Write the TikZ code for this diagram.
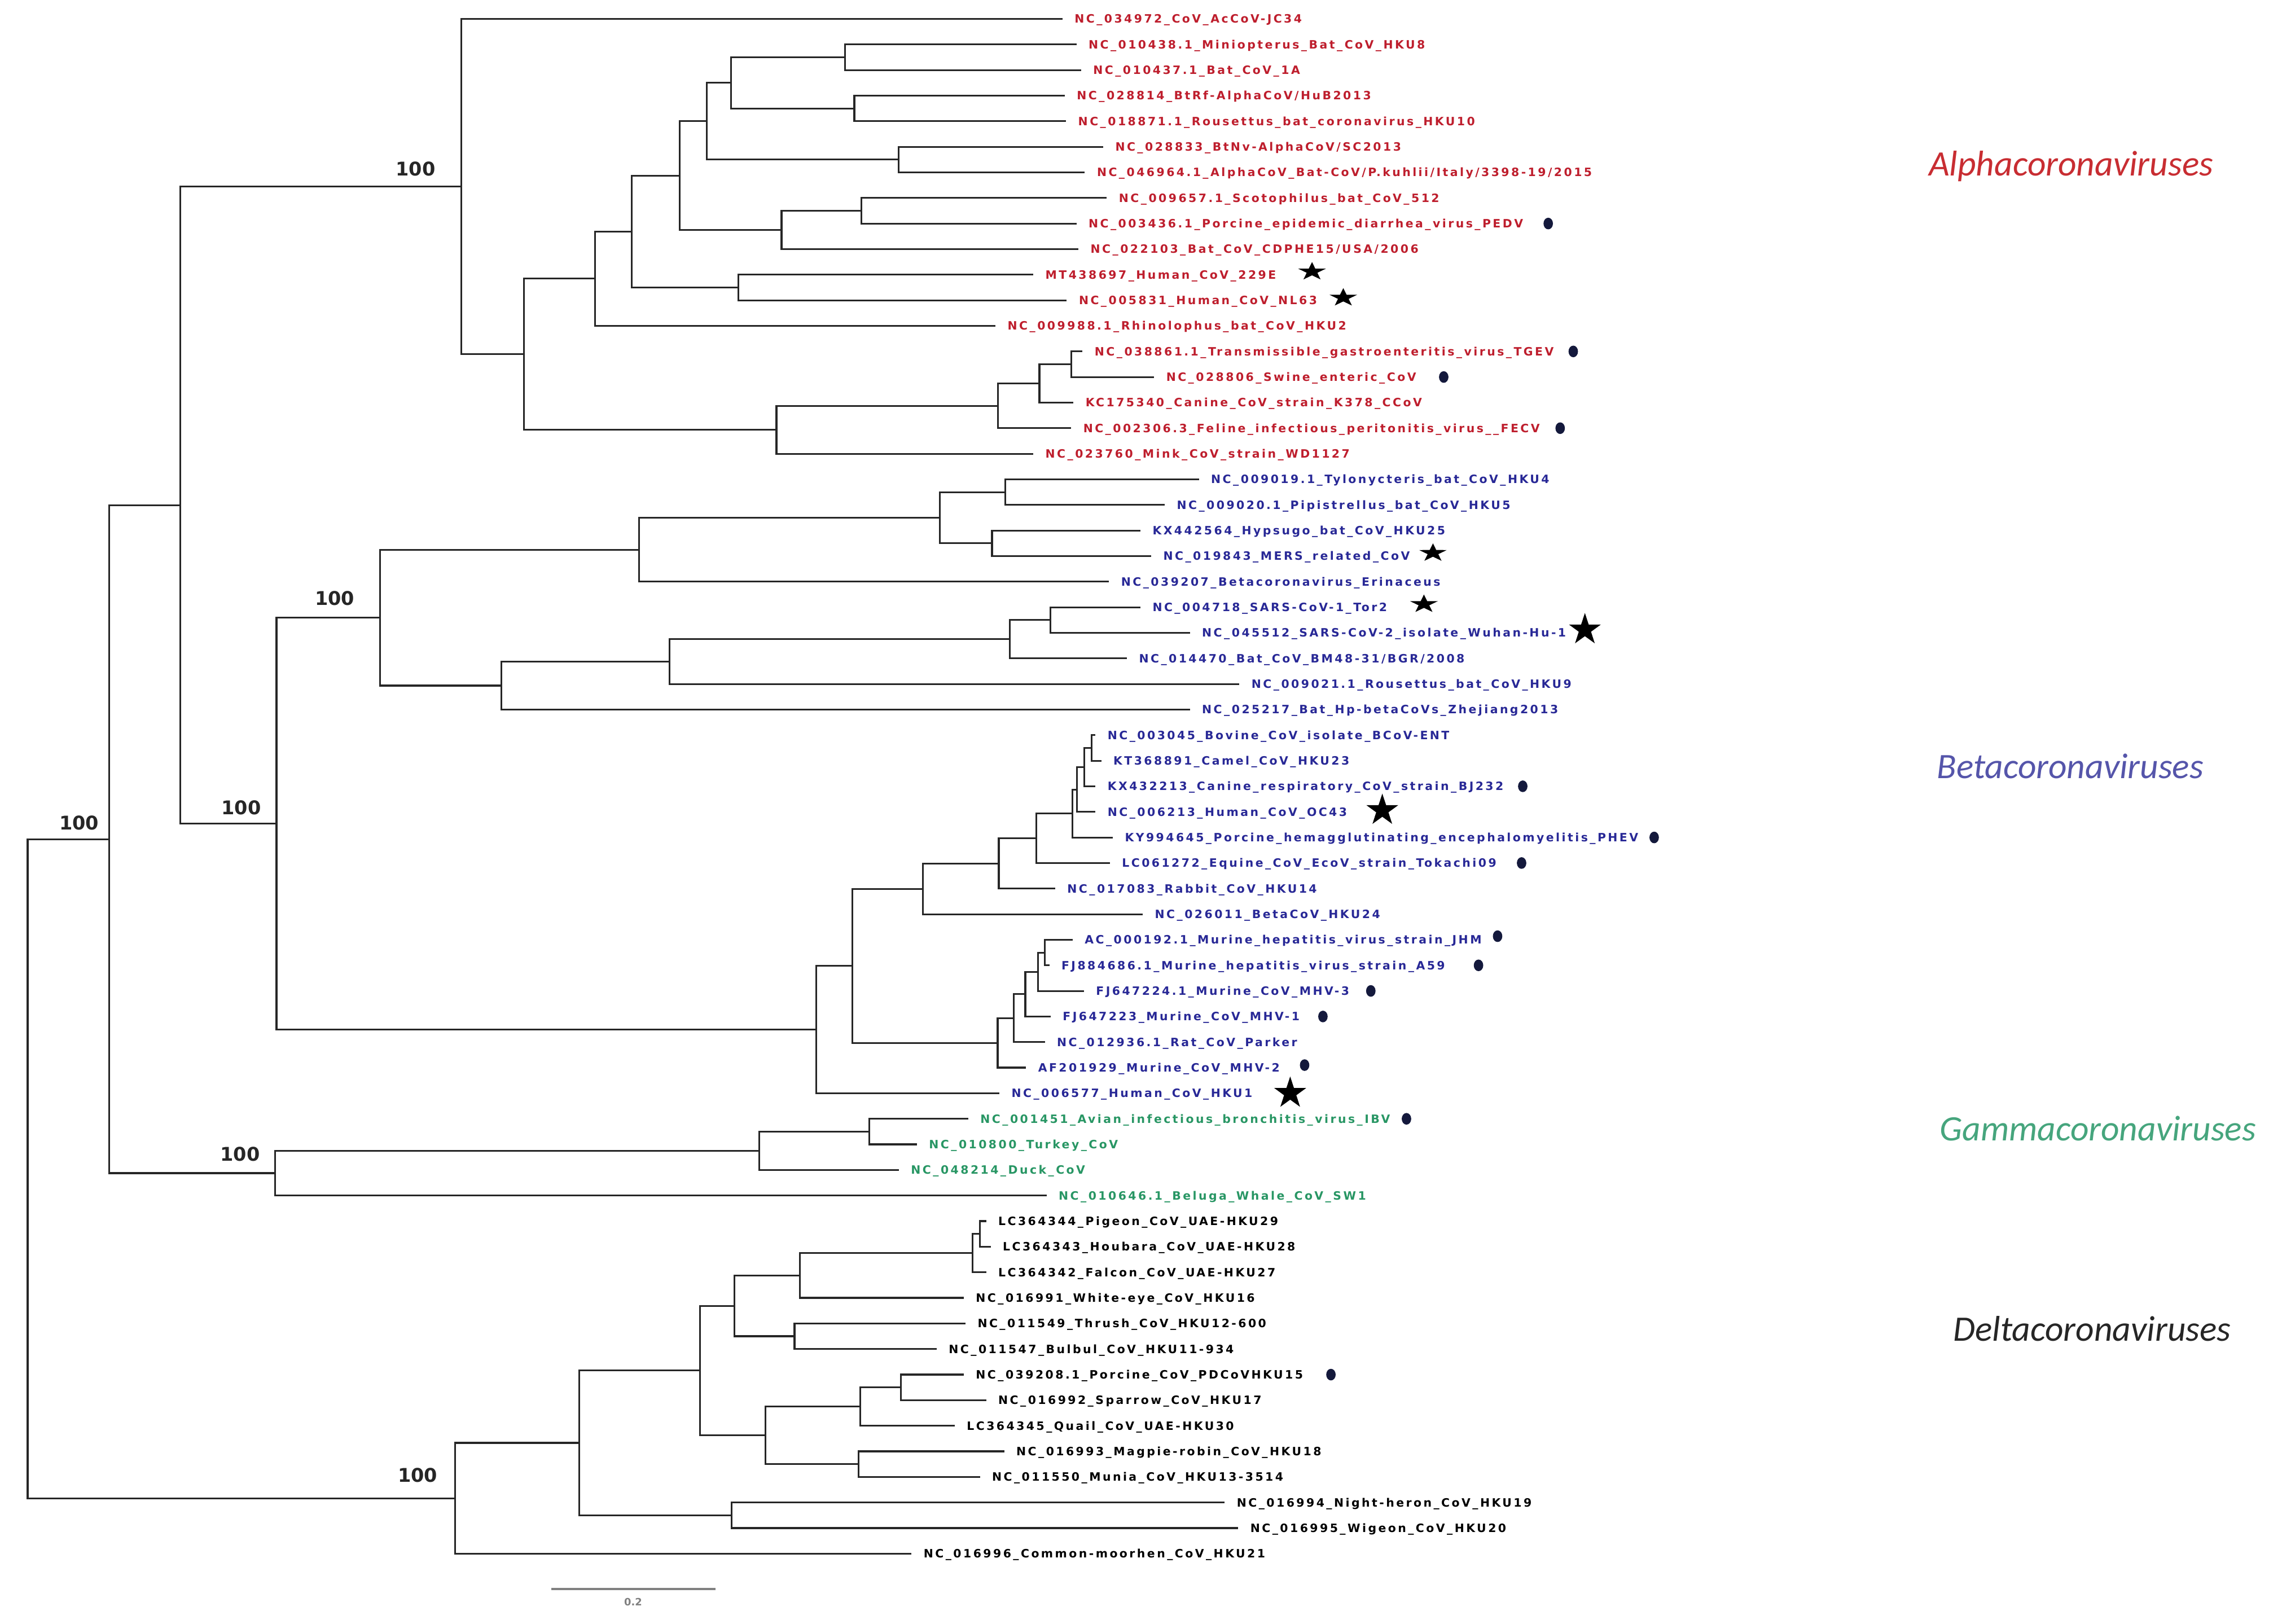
\documentclass[tikz,border=0pt]{standalone}
\usepackage{fontspec}
\usetikzlibrary{positioning, shapes.geometric}
\newfontfamily\leaffont[LetterSpace=17]{DejaVu Sans}
\newfontfamily\bootfont{DejaVu Sans}
\newfontfamily\cladefont{Carlito}
\definecolor{alphared}{RGB}{190,30,45}
\definecolor{betablue}{RGB}{40,40,150}
\definecolor{gammagreen}{RGB}{40,150,100}
\definecolor{hostdot}{RGB}{20,25,60}
\definecolor{alphaname}{RGB}{200,45,50}
\definecolor{betaname}{RGB}{85,85,170}
\definecolor{gammaname}{RGB}{70,165,125}
\tikzset{
 branch/.style={line width=0.7pt, black!85},
 lbl/.style={inner sep=0pt, text height=3.3pt, text depth=0pt, font=\leaffont\fontsize{4.5}{5}\bfseries},
 boot/.style={inner sep=0pt, font=\bootfont\fontsize{7.4}{8}\bfseries, text=black!85},
 clade/.style={inner sep=0pt, font=\cladefont\fontsize{14}{16}\itshape},
 starbase/.style={star, star points=5, star point ratio=2.6, fill=black, inner sep=0pt},
 flatstar/.style={starbase, minimum size=0.4cm, yscale=0.66},
 bigstar/.style={starbase, minimum size=0.46cm},
 host/.style={ellipse, fill=hostdot, inner sep=0pt, minimum width=0.13cm, minimum height=0.16cm}
}
% 葉: 番号, 枝の先のx, 色, 名前
\newcommand{\taxon}[4]{%
 \coordinate (t#1) at (#2,#1);
 \node[lbl, text=#3, right=0.16cm of t#1] (l#1) {#4};}

\begin{document}
\begin{tikzpicture}[x=0.02cm, y=-0.3516cm]
 \useasboundingbox (0,0.2605) rectangle (1568,63.742);

 %内部ノード
 \coordinate (root) at (19,45.95);
 \coordinate (nABG) at (75,33.07);
 \coordinate (nAB) at (124,20.01);
 \coordinate (aR) at (317,7.5547);
 \coordinate (a1) at (580.5,2.5);
 \coordinate (a2) at (587,4.5);
 \coordinate (a3) at (502.4,3.5);
 \coordinate (a4) at (617.5,6.5);
 \coordinate (a5) at (485.7,5);
 \coordinate (a6) at (591.8,8.5);
 \coordinate (a7) at (537,9.25);
 \coordinate (a8) at (467,7.125);
 \coordinate (a9) at (507.5,11.5);
 \coordinate (a10) at (434,9.3125);
 \coordinate (a11) at (409,11.156);
 \coordinate (a12) at (736,14.5);
 \coordinate (a13) at (714.2,15.25);
 \coordinate (a14) at (685.6,16.125);
 \coordinate (a15) at (533.5,17.0625);
 \coordinate (a16) at (360,14.109);
 \coordinate (bR) at (190,32.46);
 \coordinate (b1) at (690.9,19.5);
 \coordinate (b2) at (681.6,21.5);
 \coordinate (b3) at (645.7,20.5);
 \coordinate (b4) at (439.2,21.75);
 \coordinate (b5) at (721.8,24.5);
 \coordinate (b6) at (694,25.25);
 \coordinate (b7) at (460.2,26.125);
 \coordinate (b8) at (344.6,27.0625);
 \coordinate (b9) at (261,24.406);
 \coordinate (c1) at (750,29.5);
 \coordinate (c2) at (745,30.25);
 \coordinate (c3) at (740,31.125);
 \coordinate (c4) at (737,32.0625);
 \coordinate (c5) at (712,33.03);
 \coordinate (c6) at (686.3,34.016);
 \coordinate (c7) at (634,35.008);
 \coordinate (c8) at (585.7,38.02);
 \coordinate (c9) at (560.8,40.51);
 \coordinate (m1) at (718,37.5);
 \coordinate (m2) at (713.2,38.25);
 \coordinate (m3) at (704.5,39.125);
 \coordinate (m4) at (696.5,40.0625);
 \coordinate (m5) at (685.5,41.03);
 \coordinate (gR) at (189.1,46.125);
 \coordinate (g1) at (597.3,44.5);
 \coordinate (g2) at (521.8,45.25);
 \coordinate (dR) at (312.8,58.84);
 \coordinate (d1) at (673.3,48.5);
 \coordinate (d2) at (668.4,49.25);
 \coordinate (d3) at (549.6,50.125);
 \coordinate (d4) at (545.9,52.5);
 \coordinate (d5) at (504.5,51.3125);
 \coordinate (d6) at (618.9,54.5);
 \coordinate (d7) at (591,55.25);
 \coordinate (d8) at (589.8,57.5);
 \coordinate (d9) at (526.1,56.375);
 \coordinate (d10) at (481,53.84);
 \coordinate (d11) at (502.6,59.5);
 \coordinate (d12) at (398.1,56.67);

 %アルファ
 \taxon{1}{730}{alphared}{NC\_034972\_CoV\_AcCoV-JC34}
 \taxon{2}{739.6}{alphared}{NC\_010438.1\_Miniopterus\_Bat\_CoV\_HKU8}
 \taxon{3}{742.8}{alphared}{NC\_010437.1\_Bat\_CoV\_1A}
 \taxon{4}{731.6}{alphared}{NC\_028814\_BtRf-AlphaCoV/HuB2013}
 \taxon{5}{732.5}{alphared}{NC\_018871.1\_Rousettus\_bat\_coronavirus\_HKU10}
 \taxon{6}{758}{alphared}{NC\_028833\_BtNv-AlphaCoV/SC2013}
 \taxon{7}{745.4}{alphared}{NC\_046964.1\_AlphaCoV\_Bat-CoV/P.kuhlii/Italy/3398-19/2015}
 \taxon{8}{760.5}{alphared}{NC\_009657.1\_Scotophilus\_bat\_CoV\_512}
 \taxon{9}{739.6}{alphared}{NC\_003436.1\_Porcine\_epidemic\_diarrhea\_virus\_PEDV}
 \taxon{10}{741}{alphared}{NC\_022103\_Bat\_CoV\_CDPHE15/USA/2006}
 \taxon{11}{710}{alphared}{MT438697\_Human\_CoV\_229E}
 \taxon{12}{733}{alphared}{NC\_005831\_Human\_CoV\_NL63}
 \taxon{13}{684}{alphared}{NC\_009988.1\_Rhinolophus\_bat\_CoV\_HKU2}
 \taxon{14}{743.8}{alphared}{NC\_038861.1\_Transmissible\_gastroenteritis\_virus\_TGEV}
 \taxon{15}{793}{alphared}{NC\_028806\_Swine\_enteric\_CoV}
 \taxon{16}{737.6}{alphared}{KC175340\_Canine\_CoV\_strain\_K378\_CCoV}
 \taxon{17}{736}{alphared}{NC\_002306.3\_Feline\_infectious\_peritonitis\_virus\_\_FECV}
 \taxon{18}{710}{alphared}{NC\_023760\_Mink\_CoV\_strain\_WD1127}
 %ベータ
 \taxon{19}{823.8}{betablue}{NC\_009019.1\_Tylonycteris\_bat\_CoV\_HKU4}
 \taxon{20}{800.3}{betablue}{NC\_009020.1\_Pipistrellus\_bat\_CoV\_HKU5}
 \taxon{21}{783.6}{betablue}{KX442564\_Hypsugo\_bat\_CoV\_HKU25}
 \taxon{22}{791}{betablue}{NC\_019843\_MERS\_related\_CoV}
 \taxon{23}{762}{betablue}{NC\_039207\_Betacoronavirus\_Erinaceus}
 \taxon{24}{783.6}{betablue}{NC\_004718\_SARS-CoV-1\_Tor2}
 \taxon{25}{817.6}{betablue}{NC\_045512\_SARS-CoV-2\_isolate\_Wuhan-Hu-1}
 \taxon{26}{774.3}{betablue}{NC\_014470\_Bat\_CoV\_BM48-31/BGR/2008}
 \taxon{27}{851.6}{betablue}{NC\_009021.1\_Rousettus\_bat\_CoV\_HKU9}
 \taxon{28}{817.6}{betablue}{NC\_025217\_Bat\_Hp-betaCoVs\_Zhejiang2013}
 \taxon{29}{752.7}{betablue}{NC\_003045\_Bovine\_CoV\_isolate\_BCoV-ENT}
 \taxon{30}{756.7}{betablue}{KT368891\_Camel\_CoV\_HKU23}
 \taxon{31}{752.7}{betablue}{KX432213\_Canine\_respiratory\_CoV\_strain\_BJ232}
 \taxon{32}{752.7}{betablue}{NC\_006213\_Human\_CoV\_OC43}
 \taxon{33}{764.6}{betablue}{KY994645\_Porcine\_hemagglutinating\_encephalomyelitis\_PHEV}
 \taxon{34}{762.6}{betablue}{LC061272\_Equine\_CoV\_EcoV\_strain\_Tokachi09}
 \taxon{35}{725}{betablue}{NC\_017083\_Rabbit\_CoV\_HKU14}
 \taxon{36}{785.2}{betablue}{NC\_026011\_BetaCoV\_HKU24}
 \taxon{37}{737}{betablue}{AC\_000192.1\_Murine\_hepatitis\_virus\_strain\_JHM}
 \taxon{38}{721}{betablue}{FJ884686.1\_Murine\_hepatitis\_virus\_strain\_A59}
 \taxon{39}{744.8}{betablue}{FJ647224.1\_Murine\_CoV\_MHV-3}
 \taxon{40}{721.9}{betablue}{FJ647223\_Murine\_CoV\_MHV-1}
 \taxon{41}{717.9}{betablue}{NC\_012936.1\_Rat\_CoV\_Parker}
 \taxon{42}{705}{betablue}{AF201929\_Murine\_CoV\_MHV-2}
 \taxon{43}{686.7}{betablue}{NC\_006577\_Human\_CoV\_HKU1}
 %ガンマ
 \taxon{44}{665.3}{gammagreen}{NC\_001451\_Avian\_infectious\_bronchitis\_virus\_IBV}
 \taxon{45}{630}{gammagreen}{NC\_010800\_Turkey\_CoV}
 \taxon{46}{617.6}{gammagreen}{NC\_048214\_Duck\_CoV}
 \taxon{47}{719.1}{gammagreen}{NC\_010646.1\_Beluga\_Whale\_CoV\_SW1}
 %デルタ
 \taxon{48}{677.6}{black}{LC364344\_Pigeon\_CoV\_UAE-HKU29}
 \taxon{49}{680.7}{black}{LC364343\_Houbara\_CoV\_UAE-HKU28}
 \taxon{50}{677.6}{black}{LC364342\_Falcon\_CoV\_UAE-HKU27}
 \taxon{51}{662.2}{black}{NC\_016991\_White-eye\_CoV\_HKU16}
 \taxon{52}{663.4}{black}{NC\_011549\_Thrush\_CoV\_HKU12-600}
 \taxon{53}{643.6}{black}{NC\_011547\_Bulbul\_CoV\_HKU11-934}
 \taxon{54}{662.2}{black}{NC\_039208.1\_Porcine\_CoV\_PDCoVHKU15}
 \taxon{55}{677.6}{black}{NC\_016992\_Sparrow\_CoV\_HKU17}
 \taxon{56}{656}{black}{LC364345\_Quail\_CoV\_UAE-HKU30}
 \taxon{57}{690}{black}{NC\_016993\_Magpie-robin\_CoV\_HKU18}
 \taxon{58}{673.3}{black}{NC\_011550\_Munia\_CoV\_HKU13-3514}
 \taxon{59}{841.5}{black}{NC\_016994\_Night-heron\_CoV\_HKU19}
 \taxon{60}{850.8}{black}{NC\_016995\_Wigeon\_CoV\_HKU20}
 \taxon{61}{626.3}{black}{NC\_016996\_Common-moorhen\_CoV\_HKU21}

 %枝
 \foreach \p/\c in {root/nABG, root/dR, nABG/nAB, nABG/gR, nAB/aR, nAB/bR,
  aR/t1, aR/a16, a16/a11, a16/a15, a11/a10, a11/t13, a10/a8, a10/a9,
  a8/a5, a8/a7, a5/a3, a5/a4, a3/a1, a3/a2, a1/t2, a1/t3, a2/t4, a2/t5,
  a4/t6, a4/t7, a7/a6, a7/t10, a6/t8, a6/t9, a9/t11, a9/t12,
  a15/a14, a15/t18, a14/a13, a14/t17, a13/a12, a13/t16, a12/t14, a12/t15,
  bR/b9, bR/c9, b9/b4, b9/b8, b4/b3, b4/t23, b3/b1, b3/b2, b1/t19, b1/t20,
  b2/t21, b2/t22, b8/b7, b8/t28, b7/b6, b7/t27, b6/b5, b6/t26, b5/t24, b5/t25,
  c9/c8, c9/t43, c8/c7, c8/m5, c7/c6, c7/t36, c6/c5, c6/t35, c5/c4, c5/t34,
  c4/c3, c4/t33, c3/c2, c3/t32, c2/c1, c2/t31, c1/t29, c1/t30,
  m5/m4, m5/t42, m4/m3, m4/t41, m3/m2, m3/t40, m2/m1, m2/t39, m1/t37, m1/t38,
  gR/g2, gR/t47, g2/g1, g2/t46, g1/t44, g1/t45,
  dR/d12, dR/t61, d12/d10, d12/d11, d10/d5, d10/d9, d5/d3, d5/d4,
  d3/d2, d3/t51, d2/d1, d2/t50, d1/t48, d1/t49, d4/t52, d4/t53,
  d9/d7, d9/d8, d7/d6, d7/t56, d6/t54, d6/t55, d8/t57, d8/t58, d11/t59, d11/t60}
  \draw[branch] (\p) |- (\c);

 %ブートストラップ値
 \node[boot] (bt1) at (54.4,32.43) {100};
 \node[boot] (bt2) at (285.6,6.86) {100};
 \node[boot] (bt3) at (165.7,31.83) {100};
 \node[boot] (bt4) at (230,23.64) {100};
 \node[boot] (bt5) at (165,45.37) {100};
 \node[boot] (bt6) at (287,57.94) {100};

 %ヒト (星) と動物 (点)
 \node[flatstar] (s11) at (901.5,10.88) {};
 \node[flatstar] (s12) at (923,11.9) {};
 \node[flatstar] (s22) at (984.6,21.88) {};
 \node[flatstar] (s24) at (978.4,23.88) {};
 \node[bigstar] (s25) at (1089,24.88) {};
 \node[bigstar] (s32) at (949.8,31.94) {};
 \node[bigstar] (s43) at (886.5,43) {};
 \node[host] (h9) at (1063.8,9) {};
 \node[host] (h14) at (1081,14) {};
 \node[host] (h15) at (992,15) {};
 \node[host] (h17) at (1072,17) {};
 \node[host] (h31) at (1046.3,31) {};
 \node[host] (h33) at (1136.6,33) {};
 \node[host] (h34) at (1045.5,34) {};
 \node[host] (h37) at (1029,36.86) {};
 \node[host] (h38) at (1015.9,38) {};
 \node[host] (h39) at (941.9,39) {};
 \node[host] (h40) at (909,40) {};
 \node[host] (h42) at (896.4,41.9) {};
 \node[host] (h44) at (966.4,44) {};
 \node[host] (h54) at (914.5,54) {};

 %属の名前
 \node[clade, text=alphaname] (alpha) at (1423,6.77) {Alphacoronaviruses};
 \node[clade, text=betaname] (beta) at (1422.5,30.21) {Betacoronaviruses};
 \node[clade, text=gammaname] (gamma) at (1441.5,44.37) {Gammacoronaviruses};
 \node[clade, text=black!85] (delta) at (1437.5,52.21) {Deltacoronaviruses};

 %スケール
 \coordinate (sbL) at (379,62.38);
 \coordinate (sbR) at (491.8,62.38);
 \draw[gray, line width=0.8pt] (sbL) -- (sbR);
 \node[inner sep=0pt, font=\bootfont\fontsize{3.95}{4}\bfseries, text=gray] (sbT) at (435,62.89) {0.2};
\end{tikzpicture}
\end{document}
